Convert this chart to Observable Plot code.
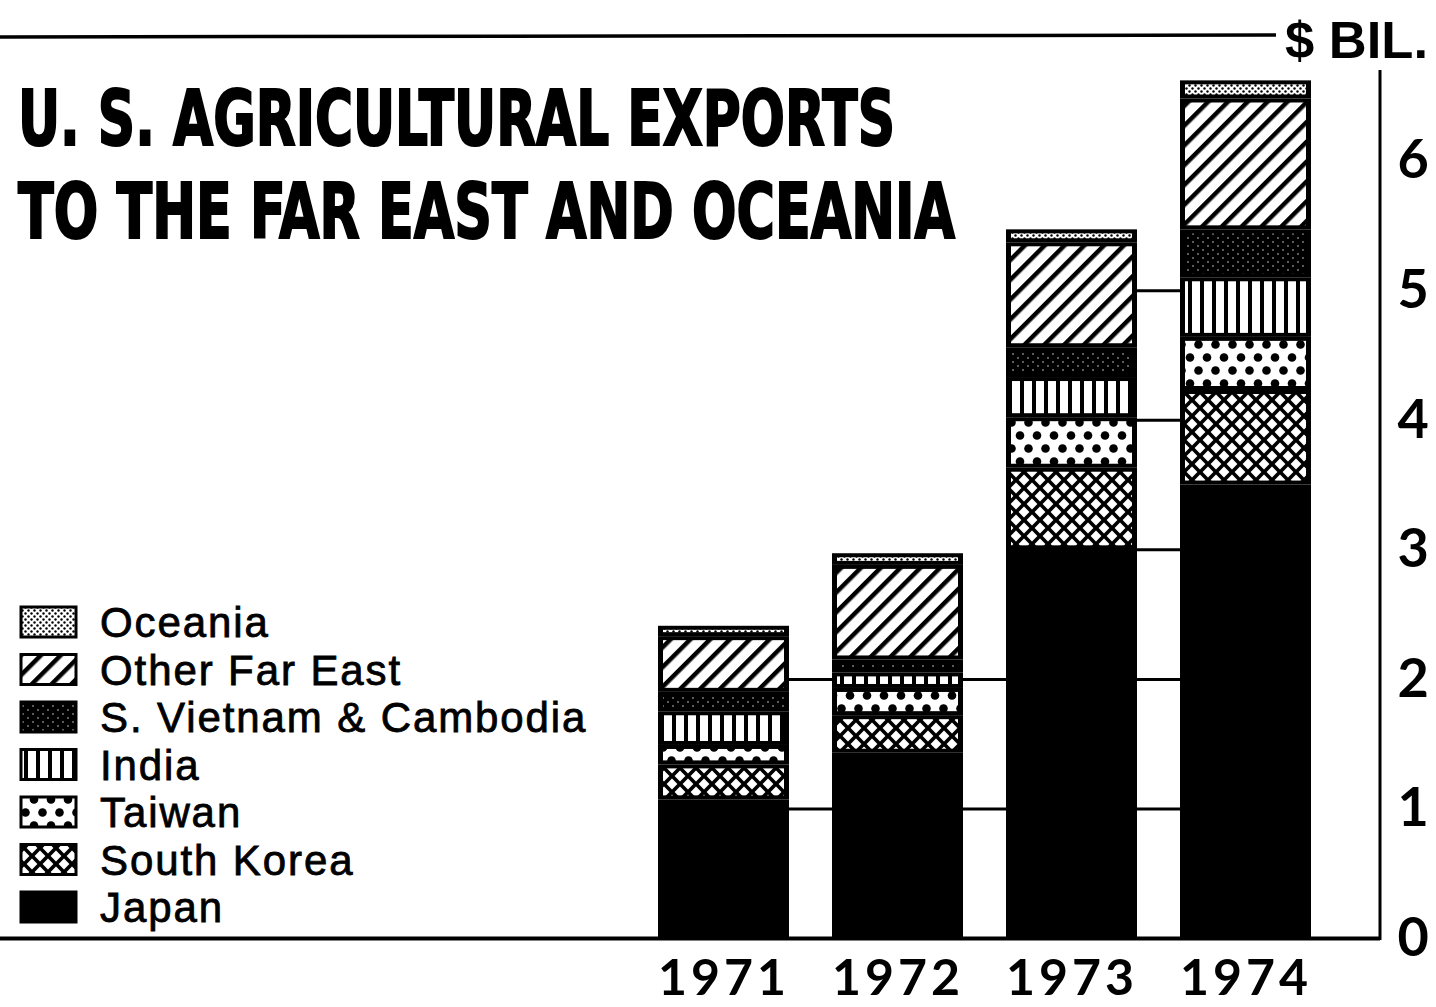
<!DOCTYPE html>
<html>
<head>
<meta charset="utf-8">
<script src="https://cdn.jsdelivr.net/npm/d3@7"></script>
<script src="https://cdn.jsdelivr.net/npm/@observablehq/plot@0.6"></script>
<style>
  html, body { margin: 0; padding: 0; background: #fff; }
  #wrap { position: relative; width: 1436px; height: 1007px; overflow: hidden; background: #fff; }
  #chart { position: absolute; left: 0; top: 0; }
  .ov { position: absolute; left: 0; top: 0; }
  #chart g[aria-label="x-axis tick label"] { font-size: 50px; letter-spacing: 4px; }
</style>
</head>
<body>
<svg id="defs" width="0" height="0" style="position:absolute">
  <defs>
    <pattern id="pat0" width="10" height="10" patternUnits="userSpaceOnUse">
      <rect width="10" height="10" fill="#000"/>
    </pattern>
    <pattern id="pat1" width="16" height="16" patternUnits="userSpaceOnUse">
      <rect width="16" height="16" fill="#000"/>
      <path d="M8 2.6L13.4 8L8 13.4L2.6 8Z" fill="#fff"/>
      <path d="M0 -5.4L5.4 0L0 5.4L-5.4 0Z" fill="#fff"/>
      <path d="M16 -5.4L21.4 0L16 5.4L10.6 0Z" fill="#fff"/>
      <path d="M0 10.6L5.4 16L0 21.4L-5.4 16Z" fill="#fff"/>
      <path d="M16 10.6L21.4 16L16 21.4L10.6 16Z" fill="#fff"/>
    </pattern>
    <pattern id="pat2" width="17" height="26" patternUnits="userSpaceOnUse">
      <rect width="17" height="26" fill="#fff"/>
      <circle cx="8.5" cy="6.5" r="4.3" fill="#000"/>
      <circle cx="0" cy="19.5" r="4.3" fill="#000"/>
      <circle cx="17" cy="19.5" r="4.3" fill="#000"/>
    </pattern>
    <pattern id="pat3" width="12" height="12" patternUnits="userSpaceOnUse">
      <rect width="12" height="12" fill="#fff"/>
      <rect x="0" y="0" width="4" height="12" fill="#000"/>
    </pattern>
    <pattern id="pat4" width="10" height="8" patternUnits="userSpaceOnUse">
      <rect width="10" height="8" fill="#000"/>
      <circle cx="3" cy="2" r="0.7" fill="#fff"/>
      <circle cx="8" cy="6" r="0.7" fill="#fff"/>
    </pattern>
    <pattern id="pat5" width="14" height="14" patternUnits="userSpaceOnUse" patternTransform="rotate(45)">
      <rect width="14" height="14" fill="#fff"/>
      <rect x="0" y="0" width="4.5" height="14" fill="#000"/>
    </pattern>
    <pattern id="pat6" width="6" height="6" patternUnits="userSpaceOnUse">
      <rect width="6" height="6" fill="#fff"/>
      <circle cx="1.5" cy="1.5" r="1.2" fill="#000"/>
      <circle cx="4.5" cy="4.5" r="1.2" fill="#000"/>
    </pattern>
  </defs>
</svg>
<div id="wrap">
  <div id="chart"></div>
  <svg class="ov" id="head" width="1436" height="260"></svg>
  <svg class="ov" id="legend" width="640" height="1007"></svg>
</div>
<script>
// ---------------- data ----------------
const years = ["1971", "1972", "1973", "1974"];
const regions = ["Japan", "South Korea", "Taiwan", "India", "S. Vietnam & Cambodia", "Other Far East", "Oceania"];
const japan           = [1.07, 1.43, 3.00, 3.50];
const southKorea      = [0.27, 0.29, 0.63, 0.73];
const taiwan          = [0.15, 0.21, 0.39, 0.41];
const india           = [0.26, 0.12, 0.31, 0.46];
const vietnamCambodia = [0.15, 0.10, 0.23, 0.37];
const otherFarEast    = [0.43, 0.73, 0.81, 1.01];
const oceania         = [0.08, 0.09, 0.10, 0.14];
const yTicks = [0, 1, 2, 3, 4, 5, 6];
const titleLines = ["U. S. AGRICULTURAL EXPORTS", "TO THE FAR EAST AND OCEANIA"];
const unitLabel = "$ BIL.";

// ---------------- build tables ----------------
const series = [japan, southKorea, taiwan, india, vietnamCambodia, otherFarEast, oceania];
const data = [];
regions.forEach((r, k) => years.forEach((yr, i) => data.push({year: yr, region: r, value: series[k][i]})));
const totals = years.map((_, i) => d3.sum(series, s => s[i]));

// grid segments visible in the gap to the right of a bar tall enough to reach the tick
const gapSegs = [];
for (let i = 0; i < years.length - 1; i++) {
  for (const t of yTicks) if (t > 0 && t <= totals[i]) gapSegs.push({x1: years[i], x2: years[i + 1], y: t});
}
const edgeSegs = yTicks.filter(t => t > 0).map(t => ({x1: years[years.length - 1], y: t}));

const patUrl = regions.map((_, k) => `url(#pat${k})`);

const chart = Plot.plot({
  width: 1436,
  height: 1007,
  marginLeft: 0,
  marginRight: 56,
  marginTop: 70,
  marginBottom: 69,
  style: {background: "transparent", color: "#000", fontFamily: "Lato, 'DejaVu Sans', sans-serif", fontSize: "54px", fontWeight: 700},
  x: {type: "band", domain: years, range: [657, 1312], paddingInner: 0.25, paddingOuter: 0, axis: "bottom", tickSize: 0, tickPadding: 21, label: null},
  y: {domain: [0, 6.7], axis: "right", ticks: yTicks, tickSize: 0, tickPadding: 17, label: null, tickFormat: d => String(d)},
  color: {domain: regions, range: patUrl, legend: false},
  marks: [
    Plot.ruleY(gapSegs, {x1: "x1", x2: "x2", y: "y", stroke: "#000", strokeWidth: 3}),
    Plot.ruleY(edgeSegs, {x1: "x1", y: "y", stroke: "#000", strokeWidth: 3}),
    Plot.barY(data, {x: "year", y: "value", fill: "#000"}),
    Plot.barY(data, {x: "year", y: "value", fill: "region", insetLeft: 5, insetRight: 5, insetTop: 4, insetBottom: 4}),
    Plot.ruleY([0], {stroke: "#000", strokeWidth: 4}),
    (index, scales, values, dims) => {
      const x = dims.width - dims.marginRight;
      return d3.create("svg:line")
        .attr("x1", x).attr("x2", x)
        .attr("y1", dims.marginTop).attr("y2", dims.height - dims.marginBottom + 2)
        .attr("stroke", "#000").attr("stroke-width", 3).node();
    }
  ]
});
document.getElementById("chart").appendChild(chart);

// ---------------- heading ----------------
const head = d3.select("#head");
head.append("line").attr("x1", 0).attr("x2", 1276).attr("y1", 37).attr("y2", 35)
  .attr("stroke", "#000").attr("stroke-width", 3.5);
const tl = [{y: 145, len: 877}, {y: 238, len: 937}];
titleLines.forEach((s, i) => {
  head.append("text").attr("x", 18).attr("y", tl[i].y)
    .attr("font-family", "'Liberation Sans Narrow', 'DejaVu Sans Condensed', sans-serif")
    .attr("font-weight", "bold").attr("font-size", 76)
    .attr("textLength", tl[i].len).attr("lengthAdjust", "spacingAndGlyphs")
    .attr("stroke", "#000").attr("stroke-width", 2)
    .text(s);
});
head.append("text").attr("x", 1285).attr("y", 58)
  .attr("font-family", "'Liberation Sans', Arial, sans-serif")
  .attr("font-weight", "bold").attr("font-size", 52)
  .attr("textLength", 143).attr("lengthAdjust", "spacingAndGlyphs")
  .text(unitLabel);

// ---------------- legend ----------------
const leg = d3.select("#legend");
const legOrder = regions.map((r, k) => ({r, k})).reverse();
legOrder.forEach((d, j) => {
  const cy = 622 + j * 47.5;
  leg.append("rect").attr("x", 21).attr("y", cy - 15).attr("width", 55).attr("height", 30)
    .attr("fill", patUrl[d.k]).attr("stroke", "#000").attr("stroke-width", 3);
  leg.append("text").attr("x", 100).attr("y", cy + 15)
    .attr("font-family", "'Liberation Sans', Arial, sans-serif").attr("font-size", 42)
    .attr("font-weight", 400).attr("letter-spacing", 1.9)
    .attr("stroke", "#000").attr("stroke-width", 0.8).attr("fill", "#000")
    .text(d.r);
});
</script>
</body>
</html>
